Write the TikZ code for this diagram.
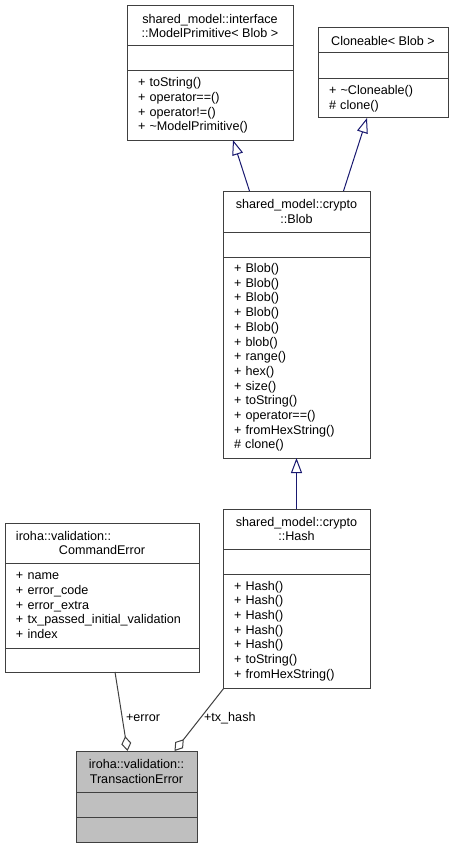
\documentclass[tikz,border=0pt]{standalone}
\usepackage{fontspec}
\setmainfont{Liberation Sans}
\usetikzlibrary{arrows.meta,positioning}
\definecolor{rand}{HTML}{404040}
\definecolor{navy}{HTML}{191970}
\definecolor{grau}{HTML}{BFBFBF}
\newcommand\mitte[1]{\leavevmode\null\hfill#1\hfill\null}

\begin{document}
\begin{tikzpicture}[x=1pt,y=-1pt,font=\fontsize{12.6}{14.7}\selectfont,
  head/.style={draw=rand,line width=1pt,minimum width=#1,align=center,inner sep=0pt,outer sep=0pt},
  body/.style={draw=rand,line width=1pt,text width=#1,align=left,inner xsep=11pt,inner ysep=0pt,outer sep=0pt},
  isa/.style={{Triangle[open,length=15pt,width=11pt]}-,draw=navy,line width=1pt},
  has/.style={{Diamond[open,length=15pt,width=10pt]}-,draw=rand,line width=1pt}]
\useasboundingbox (0,0) rectangle (454,848);
% base classes
\node[head=166,minimum height=40,anchor=north west] (mpT) at (127,6) {shared\_model::interface\\::ModelPrimitive< Blob >};
\node[head=166,minimum height=25,below=0pt of mpT] (mpA) {};
\node[body=144,minimum height=69,below=0pt of mpA] (mpM) {+ toString()\\+ operator==()\\+ operator!=()\\+ \textasciitilde ModelPrimitive()};
\node[head=130,minimum height=25,anchor=north west] (clT) at (318,28) {Cloneable< Blob >};
\node[head=130,minimum height=26,below=0pt of clT] (clA) {};
\node[body=108,minimum height=39,below=0pt of clA] (clM) {+ \textasciitilde Cloneable()\\\# clone()};
% Blob and Hash
\node[head=147,minimum height=41,anchor=north west] (blobT) at (223,191) {shared\_model::crypto\\::Blob};
\node[head=147,minimum height=25,below=0pt of blobT] (blobA) {};
\node[body=125,minimum height=201,below=0pt of blobA] (blobM) {+ Blob()\\+ Blob()\\+ Blob()\\+ Blob()\\+ Blob()\\+ blob()\\+ range()\\+ hex()\\+ size()\\+ toString()\\+ operator==()\\+ fromHexString()\\\# clone()};
\node[head=147,minimum height=40,anchor=north west] (hashT) at (223,509) {shared\_model::crypto\\::Hash};
\node[head=147,minimum height=25,below=0pt of hashT] (hashA) {};
\node[body=125,minimum height=114,below=0pt of hashA] (hashM) {+ Hash()\\+ Hash()\\+ Hash()\\+ Hash()\\+ Hash()\\+ toString()\\+ fromHexString()};
% validation
\node[body=172,minimum height=40,anchor=north west] (ceT) at (5,523) {iroha::validation::\\\mitte{CommandError}};
\node[body=172,minimum height=85,below=0pt of ceT] (ceA) {+ name\\+ error\_code\\+ error\_extra\\+ tx\_passed\_initial\_validation\\+ index};
\node[head=194,minimum height=24,below=0pt of ceA] (ceE) {};
\node[head=121,minimum height=41,fill=grau,anchor=north west] (teT) at (76,751) {iroha::validation::\\TransactionError};
\node[head=121,minimum height=25,fill=grau,below=0pt of teT] (teA) {};
\node[head=121,minimum height=25,fill=grau,below=0pt of teA] (teM) {};
\draw[isa] ([xshift=23pt]mpM.south) -- ([xshift=-47pt]blobT.north);
\draw[isa] ([xshift=-16pt]clM.south) -- ([xshift=47pt]blobT.north);
\draw[isa] (blobM.south) -- (hashT.north);
\draw[has] ([xshift=-9pt]teT.north) -- node[right,pos=.42]{+error} ([xshift=13pt]ceE.south);
\draw[has] ([xshift=38pt]teT.north) -- node[right,pos=.52]{+tx\_hash} ([xshift=1pt]hashM.south west);
\end{tikzpicture}
\end{document}
